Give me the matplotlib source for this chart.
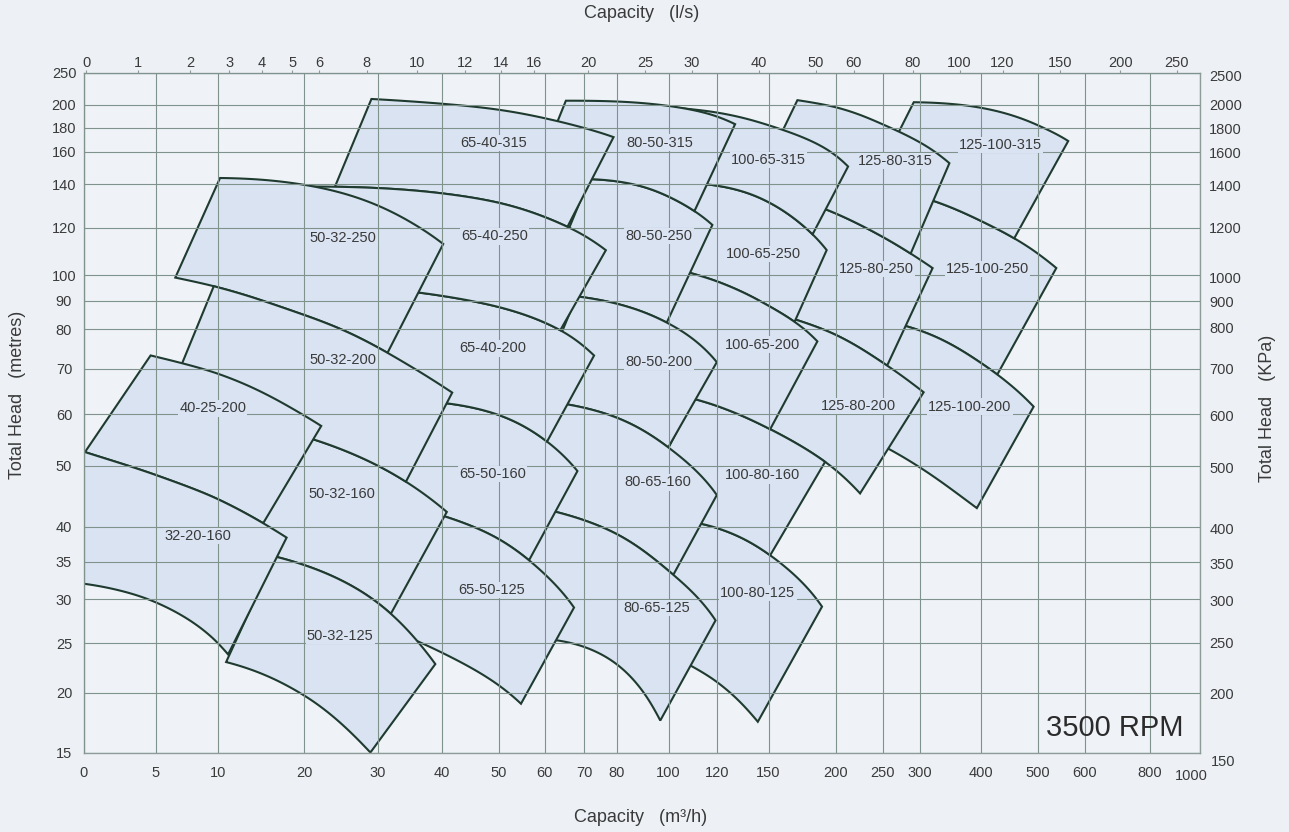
import numpy as np
import matplotlib
matplotlib.use("Agg")
import matplotlib.pyplot as plt
import matplotlib.transforms as mtransforms

plt.rcParams['font.family'] = ['Liberation Sans', 'DejaVu Sans']

# ---------------- axes grids (printed chart grid: value -> position on the 1289x832 sheet)
FLOW_M3H_TICKS = [0, 5, 10, 20, 30, 40, 50, 60, 70, 80, 100, 120, 150, 200, 250, 300, 400, 500, 600, 800, 1000]
FLOW_M3H_GRID = [83.5, 156, 218, 304, 378, 442, 499, 544.5, 584, 616.5, 668.5, 717, 768.5, 836, 882.5,
                 919.5, 980.5, 1037.5, 1084.5, 1149.5, 1199.5]
HEAD_M_TICKS = [15, 20, 25, 30, 35, 40, 50, 60, 70, 80, 90, 100, 120, 140, 160, 180, 200, 250]
HEAD_M_GRID = [752.5, 692.5, 643.2, 599.2, 561.8, 526.8, 465.8, 414.2, 368.5, 329.2, 300.8, 275.2,
               227.5, 184.2, 151.8, 127.5, 104.8, 72.5]
FLOW_LS_TICKS = [0, 1, 2, 3, 4, 5, 6, 8, 10, 12, 14, 16, 20, 25, 30, 40, 50, 60, 80, 100, 120, 150, 200, 250]
FLOW_LS_GRID = [86.1, 138.2, 189.9, 229.4, 261.6, 292.2, 319, 366.9, 416.8, 464.6, 501, 533.6, 588.4,
                645, 692.1, 759.2, 815.5, 853.8, 912.8, 959.6, 1002.5, 1060, 1120.1, 1176.8]
HEAD_KPA_TICKS = [150, 200, 250, 300, 350, 400, 500, 600, 700, 800, 900, 1000, 1200, 1400, 1600, 1800, 2000, 2500]
HEAD_KPA_GRID = [762.1, 693.7, 642.7, 600.4, 563.7, 528.7, 467.1, 415.4, 368.7, 327.7, 301.1, 277.1,
                 227.7, 185.4, 152.1, 128.7, 104.4, 75.4]

# ---------------- impeller head curves (flow m3/h, head m)
CURVE_FLOW = {
    '32-20 a': [0, 9.9, 17.8], '32-20 b': [0, 5, 11],
    '40-25 a': [4.6, 10.2, 22.2],
    '50-32 a': [10.2, 20.2, 30.2, 40.2], '50-32 b': [6.45, 20.2, 30.3, 41.7],
    '50-32 c': [21.0, 29.8, 34.2, 40.8], '50-32 d': [16.8, 29.8, 31.9, 38.9],
    '50-32 e': [10.8, 19.85, 28.9],
    '65-40 a': [29.05, 40.2, 50.2, 63.1, 79.0], '65-40 b': [19.9, 24.0, 40.8, 65.6, 76.5],
    '65-40 c': [36.3, 49.6, 63.8, 72.9],
    '65-50 a': [40.8, 49.6, 60.6, 68.2], '65-50 b': [40.5, 49.6, 56.4, 67.3], '65-50 c': [36.05, 44.6, 54.6],
    '80-50 a': [65.2, 100.6, 129.5], '80-50 b': [72.4, 100.6, 110.2, 117.8], '80-50 c': [69.4, 99.3, 119.9],
    '80-65 a': [66.5, 99.9, 119.9], '80-65 b': [62.2, 99.9, 101.9, 119.3], '80-65 c': [63.1, 79.5, 96.7],
    '100-65 a': [92.9, 145.0, 211.5], '100-65 b': [115.1, 145.0, 180.7, 191.9],
    '100-65 c': [108.9, 145.0, 167.6, 184.4],
    '100-80 a': [111.6, 151.1, 190.6, 224.0], '100-80 b': [113.7, 151.1, 188.1], '100-80 c': [109.6, 119.9, 143.1],
    '125-80 a': [169.6, 251.1, 347.2], '125-80 b': [191.9, 251.1, 287.2, 320.0],
    '125-80 c': [167.2, 200.8, 255.7, 306.2],
    '125-100 a': [291.6, 416.7, 562.1], '125-100 b': [317.2, 422.5, 457.5, 537.2],
    '125-100 c': [278.1, 366.4, 428.4, 492.6], '125-100 d': [257.8, 300.7, 393.8],
}
CURVE_HEAD = {
    '32-20 a': [52.6, 44.4, 38.4], '32-20 b': [32.0, 29.6, 23.8],
    '40-25 a': [73.1, 68.6, 57.6],
    '50-32 a': [143.6, 139.0, 129.9, 112.7], '50-32 b': [99.3, 83.5, 75.9, 64.2],
    '50-32 c': [55.1, 49.8, 47.6, 42.2], '50-32 d': [35.6, 29.7, 28.2, 22.8],
    '50-32 e': [23.0, 19.8, 15.0],
    '65-40 a': [208.2, 199.8, 193.7, 187.5, 170.9], '65-40 b': [138.8, 138.9, 134.3, 121.3, 109.7],
    '65-40 c': [93.2, 87.5, 80.1, 72.9],
    '65-50 a': [62.4, 59.6, 54.9, 48.9], '65-50 b': [41.7, 37.9, 35.6, 28.9], '65-50 c': [25.2, 22.5, 19.0],
    '80-50 a': [205.0, 198.5, 182.8], '80-50 b': [142.8, 132.8, 128.3, 120.6], '80-50 c': [91.4, 82.1, 71.5],
    '80-65 a': [61.9, 53.4, 45.0], '80-65 b': [42.4, 33.7, 33.3, 27.5], '80-65 c': [25.3, 22.9, 17.6],
    '100-65 a': [199.0, 183.9, 150.2], '100-65 b': [139.9, 133.1, 116.7, 110.5],
    '100-65 c': [101.0, 88.8, 83.7, 76.0],
    '100-80 a': [62.8, 57.5, 50.1, 45.5], '100-80 b': [40.4, 35.9, 29.1], '100-80 c': [22.5, 21.0, 17.5],
    '125-80 a': [205.7, 182.4, 152.3], '125-80 b': [128.0, 114.8, 110.1, 102.4],
    '125-80 c': [83.7, 77.3, 71.4, 64.4],
    '125-100 a': [203.1, 195.0, 168.4], '125-100 b': [132.2, 120.1, 115.3, 102.9],
    '125-100 c': [81.1, 74.5, 68.5, 61.6], '125-100 d': [53.1, 49.7, 42.9],
}

# ---------------- pump operating windows
PUMP_MODELS = ['32-20-160', '40-25-200', '50-32-250', '50-32-200', '50-32-160', '50-32-125',
               '65-40-315', '65-40-250', '65-40-200', '65-50-160', '65-50-125',
               '80-50-315', '80-50-250', '80-50-200', '80-65-160', '80-65-125',
               '100-65-315', '100-65-250', '100-65-200', '100-80-160', '100-80-125',
               '125-80-315', '125-80-250', '125-80-200', '125-100-315', '125-100-250', '125-100-200']
PUMP_UPPER = ['32-20 a', '40-25 a', '50-32 a', '50-32 b', '50-32 c', '50-32 d',
              '65-40 a', '65-40 b', '65-40 c', '65-50 a', '65-50 b',
              '80-50 a', '80-50 b', '80-50 c', '80-65 a', '80-65 b',
              '100-65 a', '100-65 b', '100-65 c', '100-80 a', '100-80 b',
              '125-80 a', '125-80 b', '125-80 c', '125-100 a', '125-100 b', '125-100 c']
PUMP_LOWER = ['32-20 b', '32-20 a', '50-32 b', '50-32 c', '50-32 d', '50-32 e',
              '65-40 b', '65-40 c', '65-50 a', '65-50 b', '65-50 c',
              '80-50 b', '80-50 c', '80-65 a', '80-65 b', '80-65 c',
              '100-65 b', '100-65 c', '100-80 a', '100-80 b', '100-80 c',
              '125-80 b', '125-80 c', '100-80 a', '125-100 b', '125-100 c', '125-100 d']
PUMP_Q_TOP_LEFT = [0, 4.6, 10.2, 9.6, 20.6, 16.3, 29.05, 18, 25, 40.0, 39.5,
                   65.2, 71.5, 68, 63.5, 61, 86, 112, 107, 110, 112, 169.6, 188, 165, 291.6, 312, 275]
PUMP_Q_TOP_RIGHT = [17.8, 22.2, 40.2, 41.7, 40.8, 38.9, 79.0, 76.5, 72.9, 68.2, 67.3,
                    129.5, 117.8, 119.9, 119.9, 119.3, 211.5, 191.9, 184.4, 190.6, 188.1,
                    347.2, 320.0, 306.2, 562.1, 537.2, 492.6]
PUMP_Q_BOTTOM_LEFT = [0, 0.1, 6.45, 5.5, 13.0, 10.8, 24.0, 14, 22, 31, 30.6,
                      57.5, 59.5, 57.5, 54, 47, 75.5, 98.5, 86, 86.5, 87, 141.7, 152, 125, 237, 238, 215]
PUMP_Q_BOTTOM_RIGHT = [11.0, 14.9, 31.4, 34.2, 31.9, 28.9, 65.6, 63.8, 60.6, 56.4, 54.6,
                       110.2, 99.3, 99.9, 101.9, 96.7, 180.7, 167.6, 151.1, 151.1, 143.1,
                       287.2, 255.7, 224.0, 457.5, 428.4, 393.8]
LABEL_FLOW = [8.2, 9.5, 25.1, 25.1, 24.9, 24.7, 49.0, 49.2, 48.8, 48.7, 48.5,
              96.7, 96.2, 96.1, 95.7, 95.2, 150, 146.6, 146.4, 146.2, 143.1,
              265.9, 243.0, 222.3, 434.2, 411.9, 381.6]
LABEL_HEAD = [38.6, 61.2, 115.4, 72.0, 45.1, 25.75, 166.5, 116.1, 74.8, 48.6, 31.2,
              167.1, 116.2, 71.5, 47.1, 28.9, 154.5, 108.8, 75.8, 48.3, 30.8,
              153.7, 102.6, 61.7, 165.3, 102.5, 61.6]

# ---------------- styles
BG = '#edf1f6'
PLOT_BG = '#eff3f8'
FILL = '#dae3f2'
EDGE = '#1f3b2f'
GRID = '#7f928b'
TXT = '#3a3a3a'
W, H = 1289, 832


def smooth_scale(xp, fp):
    """Monotone cubic (PCHIP) map through the printed grid knots, plus its inverse."""
    xp = np.asarray(xp, float)
    fp = np.asarray(fp, float)
    h = np.diff(xp)
    d = np.diff(fp) / h
    m = np.zeros_like(fp)
    m[0], m[-1] = d[0], d[-1]
    for k in range(1, len(xp) - 1):
        if d[k - 1] * d[k] <= 0:
            m[k] = 0.0
        else:
            w1 = 2 * h[k] + h[k - 1]
            w2 = h[k] + 2 * h[k - 1]
            m[k] = (w1 + w2) / (w1 / d[k - 1] + w2 / d[k])

    def f(v):
        v = np.asarray(v, float)
        k = np.clip(np.searchsorted(xp, v) - 1, 0, len(h) - 1)
        t = (v - xp[k]) / h[k]
        t2, t3 = t * t, t * t * t
        y = ((2 * t3 - 3 * t2 + 1) * fp[k] + (t3 - 2 * t2 + t) * h[k] * m[k]
             + (-2 * t3 + 3 * t2) * fp[k + 1] + (t3 - t2) * h[k] * m[k + 1])
        y = np.where(v < xp[0], fp[0] + (v - xp[0]) * m[0], y)
        y = np.where(v > xp[-1], fp[-1] + (v - xp[-1]) * m[-1], y)
        return y

    dense = np.concatenate([np.linspace(xp[i], xp[i + 1], 300, endpoint=False)
                            for i in range(len(h))] + [xp[-1:]])
    fd = f(dense)

    def finv(p):
        p = np.asarray(p, float)
        out = np.interp(p, fd, dense)
        out = np.where(p < fd[0], xp[0] + (p - fd[0]) / m[0], out)
        out = np.where(p > fd[-1], xp[-1] + (p - fd[-1]) / m[-1], out)
        return out
    return f, finv


fx, fx_inv = smooth_scale(FLOW_M3H_TICKS, FLOW_M3H_GRID)
fy, fy_inv = smooth_scale(HEAD_M_TICKS, -np.asarray(HEAD_M_GRID))
ft, ft_inv = smooth_scale(FLOW_LS_TICKS, FLOW_LS_GRID)
fr, fr_inv = smooth_scale(HEAD_KPA_TICKS, -np.asarray(HEAD_KPA_GRID))

x0, x1 = FLOW_M3H_GRID[0], FLOW_M3H_GRID[-1]
y_top, y_bot = HEAD_M_GRID[-1], HEAD_M_GRID[0]

fig = plt.figure(figsize=(W / 100, H / 100), dpi=100, facecolor=BG)
ax = fig.add_axes([x0 / W, 1 - y_bot / H, (x1 - x0) / W, (y_bot - y_top) / H])
ax.set_facecolor(PLOT_BG)
ax.set_xscale('function', functions=(fx, fx_inv))
ax.set_yscale('function', functions=(fy, fy_inv))
ax.set_xlim(FLOW_M3H_TICKS[0], FLOW_M3H_TICKS[-1])
ax.set_ylim(HEAD_M_TICKS[0], HEAD_M_TICKS[-1])

ax.set_xticks(FLOW_M3H_TICKS)
ax.set_xticklabels([str(v) for v in FLOW_M3H_TICKS[:-1]] + [''])
ax.set_yticks(HEAD_M_TICKS)
ax.set_yticklabels([str(v) for v in HEAD_M_TICKS])
ax.minorticks_off()
ax.tick_params(axis='x', length=0, pad=9.5, labelsize=10.5, labelcolor=TXT)
ax.tick_params(axis='y', length=0, pad=14, labelsize=10.5, labelcolor=TXT)
for t in ax.get_yticklabels():
    t.set_horizontalalignment('center')
ax.grid(True, color=GRID, lw=0.8)
ax.set_axisbelow(False)
for s in ax.spines.values():
    s.set_color('#8d9c96')
    s.set_linewidth(1.0)
ax.annotate(str(FLOW_M3H_TICKS[-1]), xy=(FLOW_M3H_TICKS[-1], HEAD_M_TICKS[0]),
            xytext=(-8, -23), textcoords='offset pixels', ha='center', va='center',
            fontsize=10.5, color=TXT, annotation_clip=False)

# pumps: drawn from the right-most window to the left-most one
order = sorted(range(len(PUMP_MODELS)), key=lambda i: -PUMP_Q_TOP_LEFT[i])
for k, i in enumerate(order):
    pu = np.polyfit(CURVE_FLOW[PUMP_UPPER[i]], CURVE_HEAD[PUMP_UPPER[i]], 2)
    pl = np.polyfit(CURVE_FLOW[PUMP_LOWER[i]], CURVE_HEAD[PUMP_LOWER[i]], 2)
    qt = np.linspace(PUMP_Q_TOP_LEFT[i], PUMP_Q_TOP_RIGHT[i], 120)
    qb = np.linspace(PUMP_Q_BOTTOM_RIGHT[i], PUMP_Q_BOTTOM_LEFT[i], 120)
    xs = np.concatenate([qt, qb])
    ys = np.concatenate([np.polyval(pu, qt), np.polyval(pl, qb)])
    ax.fill(xs, ys, facecolor=FILL, edgecolor=EDGE, lw=1.5, joinstyle='miter',
            zorder=1 + k * 0.03)

for i, name in enumerate(PUMP_MODELS):
    ax.text(LABEL_FLOW[i], LABEL_HEAD[i], name, ha='center', va='center', fontsize=10.5,
            color=TXT, zorder=3,
            bbox=dict(boxstyle='square,pad=0.08', fc=FILL, ec='none'))

ax.text(0.924, 0.036, '3500 RPM', transform=ax.transAxes, ha='center', va='center',
        fontsize=21, color='#2b2b2b', zorder=4)

# top axis: l/s
axt = ax.twiny()
axt.set_xscale('function', functions=(ft, ft_inv))
axt.set_xlim(float(ft_inv(x0)), float(ft_inv(x1)))
axt.set_xticks(FLOW_LS_TICKS)
axt.set_xticklabels([str(v) for v in FLOW_LS_TICKS])
axt.minorticks_off()
axt.tick_params(axis='x', direction='out', length=2.5, width=0.8, color='#8d9c96', pad=-0.8,
                labelsize=10.5, labelcolor=TXT)
for s in axt.spines.values():
    s.set_visible(False)

# right axis: KPa
axr = ax.twinx()
axr.set_yscale('function', functions=(fr, fr_inv))
axr.set_ylim(float(fr_inv(-y_bot)), float(fr_inv(-y_top)))
axr.set_yticks(HEAD_KPA_TICKS[1:])
axr.set_yticklabels([str(v) for v in HEAD_KPA_TICKS[1:]])
axr.minorticks_off()
axr.tick_params(axis='y', length=0, pad=7, labelsize=10.5, labelcolor=TXT)
for s in axr.spines.values():
    s.set_visible(False)
tr = mtransforms.blended_transform_factory(axr.transAxes, axr.transData)
axr.annotate(str(HEAD_KPA_TICKS[0]), xy=(1.0, HEAD_KPA_TICKS[0]), xycoords=tr,
             xytext=(11, 0), textcoords='offset pixels', ha='left', va='center',
             fontsize=10.5, color=TXT, annotation_clip=False)

fig.text(642 / W, 1 - 14 / H, 'Capacity   (l/s)', ha='center', va='center', fontsize=13, color=TXT)
fig.text(641 / W, 1 - 818 / H, 'Capacity   (m³/h)', ha='center', va='center', fontsize=13, color=TXT)
fig.text(18 / W, 1 - 395 / H, 'Total Head   (metres)', ha='center', va='center', rotation=90,
         fontsize=13, color=TXT)
fig.text(1267 / W, 1 - 408 / H, 'Total Head   (KPa)', ha='center', va='center', rotation=90,
         fontsize=13, color=TXT)

fig.savefig('out.png', dpi=100, facecolor=BG)
